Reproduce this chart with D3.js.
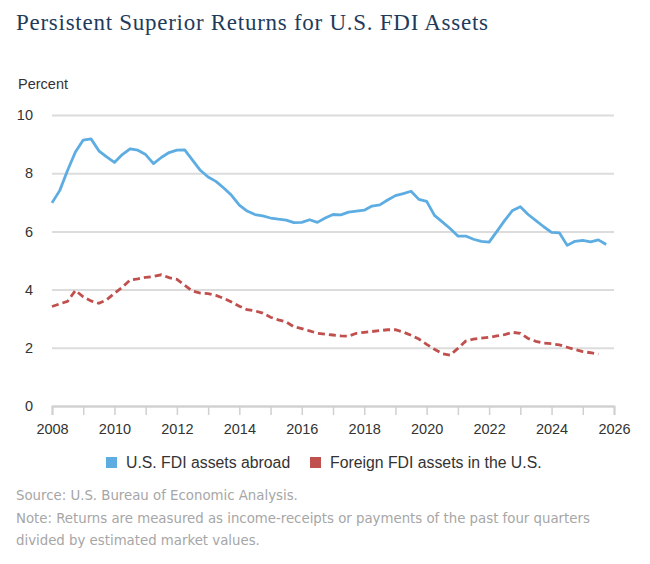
<!DOCTYPE html>
<html>
<head>
<meta charset="utf-8">
<script src="https://cdn.jsdelivr.net/npm/d3@7"></script>
<style>
  body { margin: 0; background: #fff; }
  svg { display: block; }
</style>
</head>
<body>
<div id="chart"></div>
<script>
(function(){

    // quarterly returns, 2008Q1 onward (percent)
    var startYear = 2008;
    var usAbroad = [
        6.98, 7.41, 8.10, 8.73,
        9.14, 9.18, 8.77, 8.56,
        8.37, 8.64, 8.84, 8.79,
        8.64, 8.33, 8.54, 8.71,
        8.79, 8.80, 8.45, 8.10,
        7.87, 7.72, 7.49, 7.24,
        6.90, 6.70, 6.58, 6.53,
        6.46, 6.42, 6.39, 6.30,
        6.31, 6.40, 6.31, 6.46,
        6.58, 6.57, 6.66, 6.70,
        6.73, 6.87, 6.91, 7.08,
        7.23, 7.30, 7.38, 7.10,
        7.03, 6.55, 6.33, 6.10,
        5.84, 5.84, 5.73, 5.66,
        5.63, 6.00, 6.38, 6.72,
        6.85, 6.58, 6.37, 6.16,
        5.97, 5.95, 5.52, 5.66,
        5.69, 5.64, 5.71, 5.55
    ];
    var foreignInUS = [
        3.42, 3.51, 3.60, 3.97,
        3.75, 3.61, 3.53, 3.65,
        3.87, 4.08, 4.33, 4.37,
        4.42, 4.45, 4.51, 4.41,
        4.35, 4.15, 3.95, 3.88,
        3.86, 3.80, 3.70, 3.57,
        3.43, 3.31, 3.27, 3.19,
        3.05, 2.96, 2.89, 2.72,
        2.66, 2.58, 2.50, 2.47,
        2.44, 2.41, 2.40, 2.50,
        2.53, 2.56, 2.59, 2.62,
        2.62, 2.54, 2.43, 2.30,
        2.12, 1.95, 1.80, 1.75,
        1.98, 2.23, 2.30, 2.33,
        2.36, 2.41, 2.45, 2.53,
        2.50, 2.32, 2.22, 2.16,
        2.14, 2.10, 2.02, 1.94,
        1.87, 1.83, 1.78
    ];
    var seriesNames = ["U.S. FDI assets abroad", "Foreign FDI assets in the U.S."];
    var yTicks = [0, 2, 4, 6, 8, 10];
    var xTickYears = d3.range(2008, 2027);
    var notes = [
        "Source: U.S. Bureau of Economic Analysis.",
        "Note: Returns are measured as income-receipts or payments of the past four quarters",
        "divided by estimated market values."
    ];

    var width = 650;
    var height = 564;
    var margin = {top: 115, right: 36, bottom: 158, left: 52};
    var blue = "#5dade2";
    var red = "#c0504d";

    var svg = d3.select("#chart")
        .append("svg")
        .attr("width", width)
        .attr("height", height);

    svg.append("text")
        .attr("x", 16)
        .attr("y", 30)
        .attr("font-family", "Liberation Serif, serif")
        .attr("font-size", 23)
        .attr("textLength", 472)
        .attr("lengthAdjust", "spacing")
        .attr("fill", "#1f3b5c")
        .text("Persistent Superior Returns for U.S. FDI Assets");

    svg.append("text")
        .attr("x", 18)
        .attr("y", 89)
        .attr("font-family", "Liberation Sans, Arial, sans-serif")
        .attr("font-size", 14.5)
        .attr("fill", "#333")
        .text("Percent");

    var x = d3.scaleLinear()
        .domain([2008, 2026])
        .range([margin.left, width - margin.right]);

    var y = d3.scaleLinear()
        .domain([0, 10])
        .range([height - margin.bottom, margin.top]);

    // gridlines + y labels
    var yAxis = svg.append("g")
        .attr("transform", "translate(" + margin.left + ",0)")
        .call(d3.axisLeft(y)
            .tickValues(yTicks)
            .tickSize(-(width - margin.left - margin.right))
            .tickPadding(19));
    yAxis.select(".domain").remove();
    yAxis.selectAll(".tick line")
        .attr("stroke", "#dcdcdc")
        .attr("stroke-width", 2);
    yAxis.selectAll(".tick text")
        .attr("font-family", "Liberation Sans, Arial, sans-serif")
        .attr("font-size", 14.5)
        .attr("fill", "#333");

    // x axis
    var xAxis = svg.append("g")
        .attr("transform", "translate(0," + y(0) + ")")
        .call(d3.axisBottom(x)
            .tickValues(xTickYears)
            .tickSize(9)
            .tickPadding(9)
            .tickFormat(function(d) { return d % 2 === 0 ? d : ""; }));
    xAxis.select(".domain")
        .attr("stroke", "#d0d0d0")
        .attr("stroke-width", 2);
    xAxis.selectAll(".tick line")
        .attr("stroke", "#d0d0d0")
        .attr("stroke-width", 1.5);
    xAxis.selectAll(".tick text")
        .attr("font-family", "Liberation Sans, Arial, sans-serif")
        .attr("font-size", 14.5)
        .attr("fill", "#333");

    var line = d3.line()
        .x(function(d, i) { return x(startYear + i / 4); })
        .y(function(d) { return y(d); });

    svg.append("path")
        .datum(usAbroad)
        .attr("fill", "none")
        .attr("stroke", blue)
        .attr("stroke-width", 2.8)
        .attr("stroke-linejoin", "round")
        .attr("d", line);

    svg.append("path")
        .datum(foreignInUS)
        .attr("fill", "none")
        .attr("stroke", red)
        .attr("stroke-width", 2.8)
        .attr("stroke-dasharray", "7,4")
        .attr("d", line);

    // legend
    var legendX = [106, 310];
    var legend = svg.selectAll(".legend")
        .data(seriesNames)
        .enter()
        .append("g")
        .attr("class", "legend")
        .attr("transform", function(d, i) { return "translate(" + legendX[i] + ",457)"; });
    legend.append("rect")
        .attr("width", 11)
        .attr("height", 11)
        .attr("fill", function(d, i) { return i === 0 ? blue : red; });
    legend.append("text")
        .attr("x", 20)
        .attr("y", 11)
        .attr("font-family", "Liberation Sans, Arial, sans-serif")
        .attr("font-size", 15.8)
        .attr("fill", "#333")
        .text(function(d) { return d; });

    // source and notes
    svg.selectAll(".note")
        .data(notes)
        .enter()
        .append("text")
        .attr("class", "note")
        .attr("x", 16)
        .attr("y", function(d, i) { return 500 + i * 22.5; })
        .attr("font-family", "Liberation Sans Narrow, DejaVu Sans Condensed, sans-serif")
        .attr("font-size", 14.8)
        .attr("fill", "#a6a6a6")
        .text(function(d) { return d; });

})();
</script>
</body>
</html>
